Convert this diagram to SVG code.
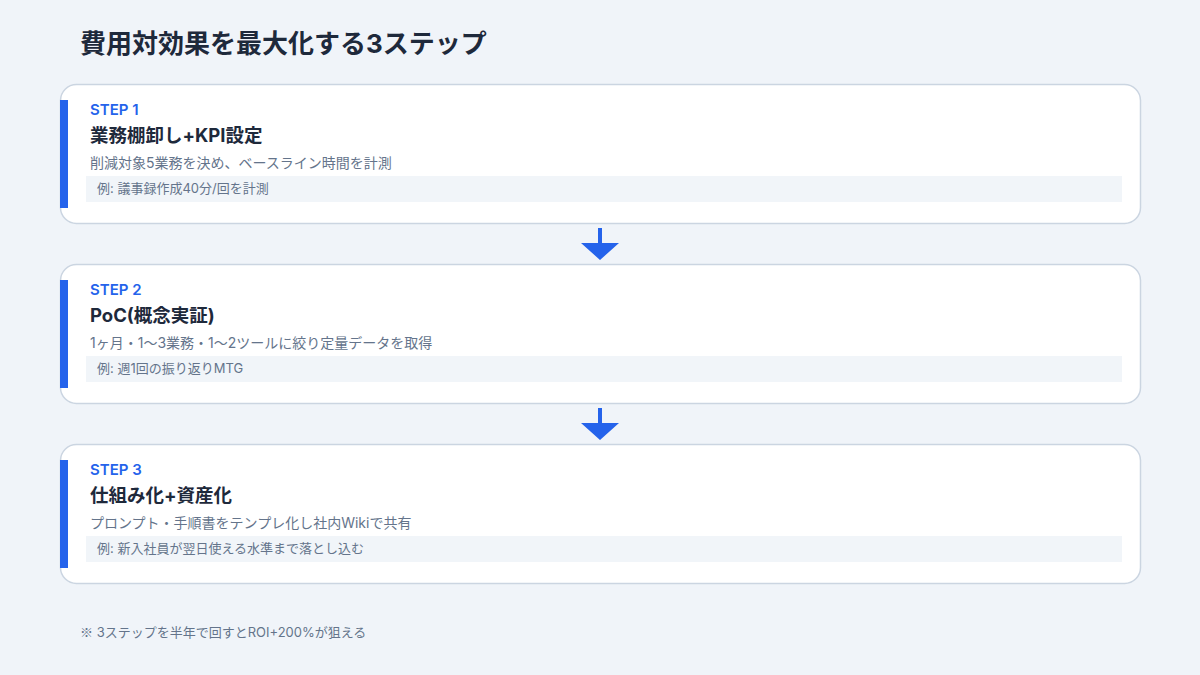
<svg xmlns="http://www.w3.org/2000/svg" width="1200" height="675" viewBox="0 0 1200 675">
<style>
text{font-family:"Inter","Noto Sans CJK JP","Noto Sans",sans-serif}
.cjk{font-family:"Noto Sans CJK JP",sans-serif}
.title{font-size:26px;font-weight:700;fill:#1e293b}
.card{fill:#ffffff;stroke:#cbd5e1;stroke-width:1.5}
.bar{fill:#2563eb}
.step{font-size:15px;font-weight:600;fill:#2563eb}
.head{font-size:18.5px;font-weight:700;fill:#1e293b}
.desc{font-size:14px;fill:#64748b}
.exbg{fill:#f1f5f9}
.ex{font-size:13px;fill:#64748b}
.note{font-size:13px;fill:#64748b}
.arrow{fill:#2563eb}
</style>
<rect width="1200" height="675" fill="#f0f4f9"/>
<text class="title" x="80" y="53">費用対効果を最大化する3ステップ</text>
<g id="step1">
<rect class="card" x="60.5" y="84.5" width="1080" height="139" rx="16"/>
<rect class="bar" x="60" y="100" width="8" height="108"/>
<text class="step" x="90" y="115">STEP 1</text>
<text class="head" x="90" y="142">業務棚卸し+KPI設定</text>
<text class="desc" x="90" y="168">削減対象5業務を決め、ベースライン時間を計測</text>
<rect class="exbg" x="86" y="176" width="1036" height="26"/>
<text class="ex" x="97" y="193">例: 議事録作成40分/回を計測</text>
</g>
<g id="step2">
<rect class="card" x="60.5" y="264.5" width="1080" height="139" rx="16"/>
<rect class="bar" x="60" y="280" width="8" height="108"/>
<text class="step" x="90" y="295">STEP 2</text>
<text class="head" x="90" y="322">PoC(概念実証)</text>
<text class="desc" x="90" y="348">1ヶ月・1〜3業務・1〜2ツールに絞り定量データを取得</text>
<rect class="exbg" x="86" y="356" width="1036" height="26"/>
<text class="ex" x="97" y="373">例: 週1回の振り返りMTG</text>
</g>
<g id="step3">
<rect class="card" x="60.5" y="444.5" width="1080" height="139" rx="16"/>
<rect class="bar" x="60" y="460" width="8" height="108"/>
<text class="step" x="90" y="475">STEP 3</text>
<text class="head" x="90" y="502">仕組み化+資産化</text>
<text class="desc" x="90" y="528">プロンプト・手順書をテンプレ化し社内Wikiで共有</text>
<rect class="exbg" x="86" y="536" width="1036" height="26"/>
<text class="ex" x="97" y="553">例: 新入社員が翌日使える水準まで落とし込む</text>
</g>
<g id="connectors">
<path class="arrow" d="M598 228 H602 V243 H619 L600 260 L581 243 H598 Z"/>
<path class="arrow" d="M598 408 H602 V423 H619 L600 440 L581 423 H598 Z"/>
</g>
<text class="note" x="80" y="637"><tspan class="cjk">※</tspan> 3ステップを半年で回すとROI+200%が狙える</text>
</svg>
